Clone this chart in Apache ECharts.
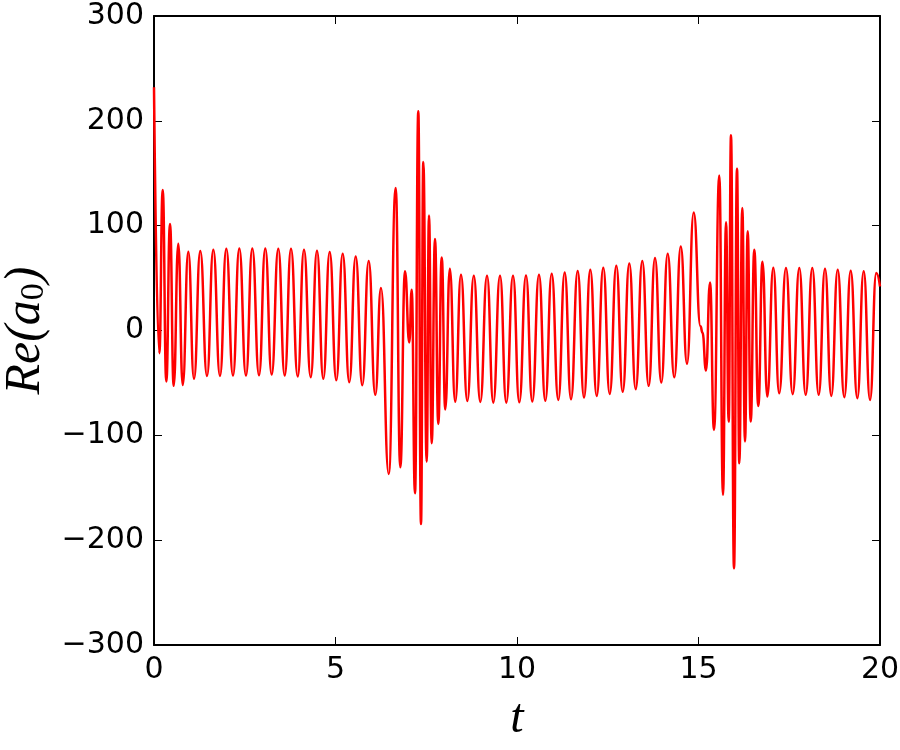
<!DOCTYPE html>
<html>
<head>
<meta charset="utf-8">
<script src="https://cdn.jsdelivr.net/npm/echarts@6/dist/echarts.min.js"></script>
<style>
html,body{margin:0;padding:0;background:#fff;}
#chart{width:900px;height:750px;}
</style>
</head>
<body>
<div id="chart"></div>
<script>
// time values (t) of the turning points
const tVals = [0,0.146,0.240,0.339,0.441,0.543,0.669,0.791,0.945,1.102,
1.275,1.460,1.634,1.818,1.992,2.176,2.350,2.534,2.708,2.893,
3.066,3.242,3.424,3.601,3.774,3.959,4.132,4.317,4.490,4.664,
4.840,5.022,5.198,5.380,5.556,5.738,5.915,6.096,6.253,6.466,
6.658,6.785,6.915,7.033,7.099,7.190,7.281,7.355,7.419,7.512,
7.576,7.650,7.741,7.832,7.926,8.025,8.149,8.298,8.457,8.631,
8.810,8.989,9.174,9.347,9.532,9.705,9.890,10.063,10.248,10.421,
10.606,10.780,10.956,11.138,11.314,11.488,11.672,11.846,12.019,12.196,
12.377,12.554,12.736,12.912,13.094,13.270,13.452,13.628,13.802,13.975,
14.152,14.333,14.512,14.683,14.868,15.055,15.110,15.207,15.317,15.427,
15.573,15.675,15.758,15.832,15.895,15.978,16.061,16.124,16.207,16.281,
16.355,16.438,16.537,16.647,16.763,16.895,17.061,17.223,17.410,17.595,
17.777,17.953,18.135,18.311,18.485,18.658,18.835,19.017,19.193,19.375,
19.551,19.725,19.898,20.0];
// Re(a0) values at those points
const reVals = [232,-21.6,134,-48.7,101.6,-52.8,82.8,-51.9,75.2,-46.1,
75.8,-43.3,77.1,-43.3,78,-43,78.3,-43,78.3,-42.6,
78.3,-42,78,-43,78,-43.9,77,-44.5,76.1,-46.1,
74.8,-47.4,73.2,-49.3,70.7,-52.2,66.3,-61.4,40.5,-136.9,
136,-130.5,56.4,-11.4,38.9,-155.3,209.2,-184.6,160.8,-125.1,
109.8,-107.6,87.3,-89.1,69.7,-75.4,58.8,-68,53.2,-67.3,
52.2,-68.1,52.2,-68.8,52.2,-68.8,52.2,-68.5,52.5,-67.8,
53.2,-67.1,54.2,-66.2,55.4,-65.5,56.7,-64,58,-62.4,
59.9,-60.5,61.8,-58.5,64,-56,66.3,-52.8,69.1,-49.7,
73.3,-44.7,80.2,-31.7,112.5,4,-2,-38.2,45.9,-94.8,
147.8,-156.9,103.2,-86.9,186.3,-226.9,154.2,-126.6,116.9,-106,
94.6,-86.9,77.1,-71.9,65.6,-63,59.9,-59.8,59.6,-60.8,
59.6,-61.4,59.6,-61.4,58.9,-62.4,58,-63.6,57,-64.6,
56.4,-66.2,54.8,42];
const xTicks = [0,5,10,15,20];
const yTicks = [-300,-200,-100,0,100,200,300];

const data = tVals.map((t,i)=>[t, reVals[i]]);
const fmt = v => String(v).replace('-', '\u2212');
const labelFont = {fontFamily:'DejaVu Sans', fontSize:30, color:'#000'};
const axisLine = {show:true, onZero:false, lineStyle:{color:'#000', width:2}};
const tick = {show:true, inside:true, length:8, lineStyle:{color:'#000', width:1}};

const chart = echarts.init(document.getElementById('chart'), null, {renderer:'canvas'});
chart.setOption({
  animation:false,
  backgroundColor:'#fff',
  grid:{left:154, top:16, width:726, height:629, containLabel:false, outerBoundsMode:'none'},
  xAxis:[{
    type:'value', min:xTicks[0], max:xTicks[xTicks.length-1], interval:5,
    axisLine:axisLine, axisTick:tick, splitLine:{show:false},
    axisLabel:Object.assign({margin:10, formatter:fmt}, labelFont),
    name:'t', nameLocation:'middle', nameGap:50,
    nameTextStyle:{fontFamily:'Liberation Serif', fontStyle:'italic', fontSize:48, color:'#000'}
  },{
    type:'value', position:'top', min:0, max:20, interval:5,
    axisLine:axisLine, axisTick:tick, axisLabel:{show:false}, splitLine:{show:false}
  }],
  yAxis:[{
    type:'value', min:yTicks[0], max:yTicks[yTicks.length-1], interval:100,
    axisLine:axisLine, axisTick:tick, splitLine:{show:false},
    axisLabel:Object.assign({margin:10, formatter:fmt}, labelFont),
    name:'{m|Re(a}{s|0}{m|)}', nameLocation:'middle', nameGap:100, nameRotate:90,
    nameTextStyle:{rich:{
      m:{fontFamily:'Liberation Serif', fontStyle:'italic', fontSize:50, color:'#000'},
      s:{fontFamily:'Liberation Serif', fontSize:34, color:'#000', verticalAlign:'bottom', padding:[16,0,0,0]}
    }}
  },{
    type:'value', position:'right', min:-300, max:300, interval:100,
    axisLine:axisLine, axisTick:tick, axisLabel:{show:false}, splitLine:{show:false}
  }],
  series:[{
    type:'line', data:data, showSymbol:false, smooth:0.5, smoothMonotone:'x',
    lineStyle:{color:'#ff0000', width:2.5}, clip:true
  }]
});
</script>
</body>
</html>
